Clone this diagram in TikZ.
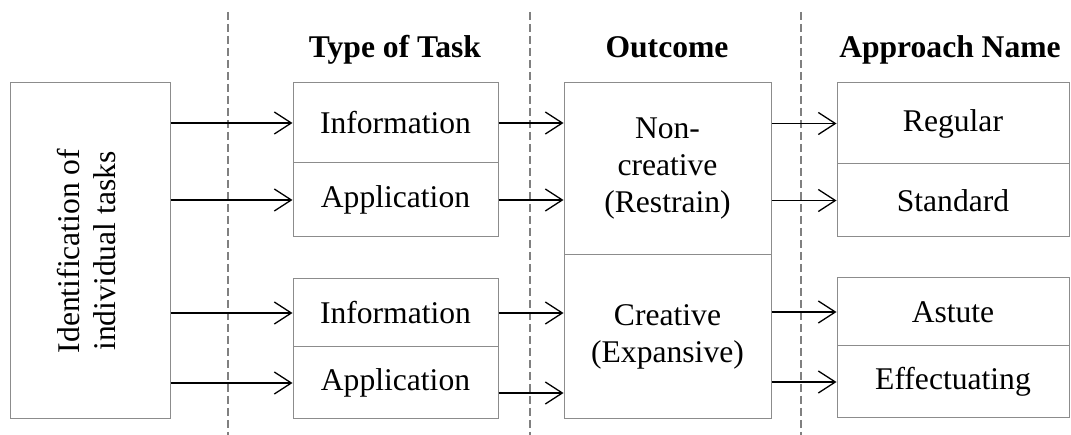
\documentclass[tikz,border=0pt]{standalone}
\usepackage{fontspec}
\setmainfont{Liberation Serif}
\usetikzlibrary{arrows.meta}
\begin{document}
\begin{tikzpicture}[x=1pt,y=-1pt,
  box/.style={draw=black!45,line width=1pt,rectangle,inner sep=0pt,align=center,
    font=\fontsize{31.6}{37}\selectfont},
  hdr/.style={anchor=base,inner sep=0pt,font=\fontsize{31.6}{37}\selectfont\bfseries},
  sep/.style={draw=black!50,line width=1.2pt,dash pattern=on 8pt off 4pt},
  conn/.style={line width=1.3pt,-{Straight Barb[length=17pt,width=22pt,line width=1.3pt]}}]
\useasboundingbox (0,0) rectangle (1071,435);
% separators
\coordinate (s1t) at (228,12); \coordinate (s1b) at (228,435);
\coordinate (s2t) at (530,12); \coordinate (s2b) at (530,435);
\coordinate (s3t) at (801,12); \coordinate (s3b) at (801,435);
\draw[sep] (s1t) -- (s1b);
\draw[sep] (s2t) -- (s2b);
\draw[sep] (s3t) -- (s3b);
% headers
\node[hdr] (h1) at (395,58) {Type of Task};
\node[hdr] (h2) at (667,58) {Outcome};
\node[hdr] (h3) at (950,58) {Approach Name};
% left box
\node[box,minimum width=160,minimum height=336] (id) at (90,251)
  {\rotatebox{90}{\begin{tabular}{@{}c@{}}Identification of\\[-1pt]individual tasks\end{tabular}}};
% type boxes
\node[box,minimum width=205,minimum height=80] (i1) at (395.5,123) {Information};
\node[box,minimum width=205,minimum height=74] (a1) at (395.5,200) {Application};
\node[box,minimum width=205,minimum height=68] (i2) at (395.5,313) {Information};
\node[box,minimum width=205,minimum height=72] (a2) at (395.5,383) {Application};
% outcome boxes
\node[box,minimum width=207,minimum height=172] (nc) at (667.5,169) {Non-\\creative\\(Restrain)};
\node[box,minimum width=207,minimum height=164] (cr) at (667.5,337) {Creative\\(Expansive)};
% approach boxes
\node[box,minimum width=232,minimum height=81] (rg) at (953,123.5) {Regular};
\node[box,minimum width=232,minimum height=73] (st) at (953,200.5) {Standard};
\node[box,minimum width=232,minimum height=68] (as) at (953,312) {Astute};
\node[box,minimum width=232,minimum height=72] (ef) at (953,382) {Effectuating};
% connectors
\draw[conn] (id.east |- i1) -- (i1.west);
\draw[conn] (id.east |- a1) -- (a1.west);
\draw[conn] (id.east |- i2) -- (i2.west);
\draw[conn] (id.east |- a2) -- (a2.west);
\draw[conn] (i1.east) -- (nc.west |- i1);
\draw[conn] (a1.east) -- (nc.west |- a1);
\draw[conn] (i2.east) -- (cr.west |- i2);
\coordinate (a2o) at ([yshift=-10pt]a2.east);
\draw[conn] (a2o) -- (cr.west |- a2o);
\draw[conn] (nc.east |- rg) -- (rg.west);
\draw[conn] (nc.east |- st) -- (st.west);
\draw[conn] (cr.east |- as) -- (as.west);
\draw[conn] (cr.east |- ef) -- (ef.west);
\end{tikzpicture}
\end{document}
